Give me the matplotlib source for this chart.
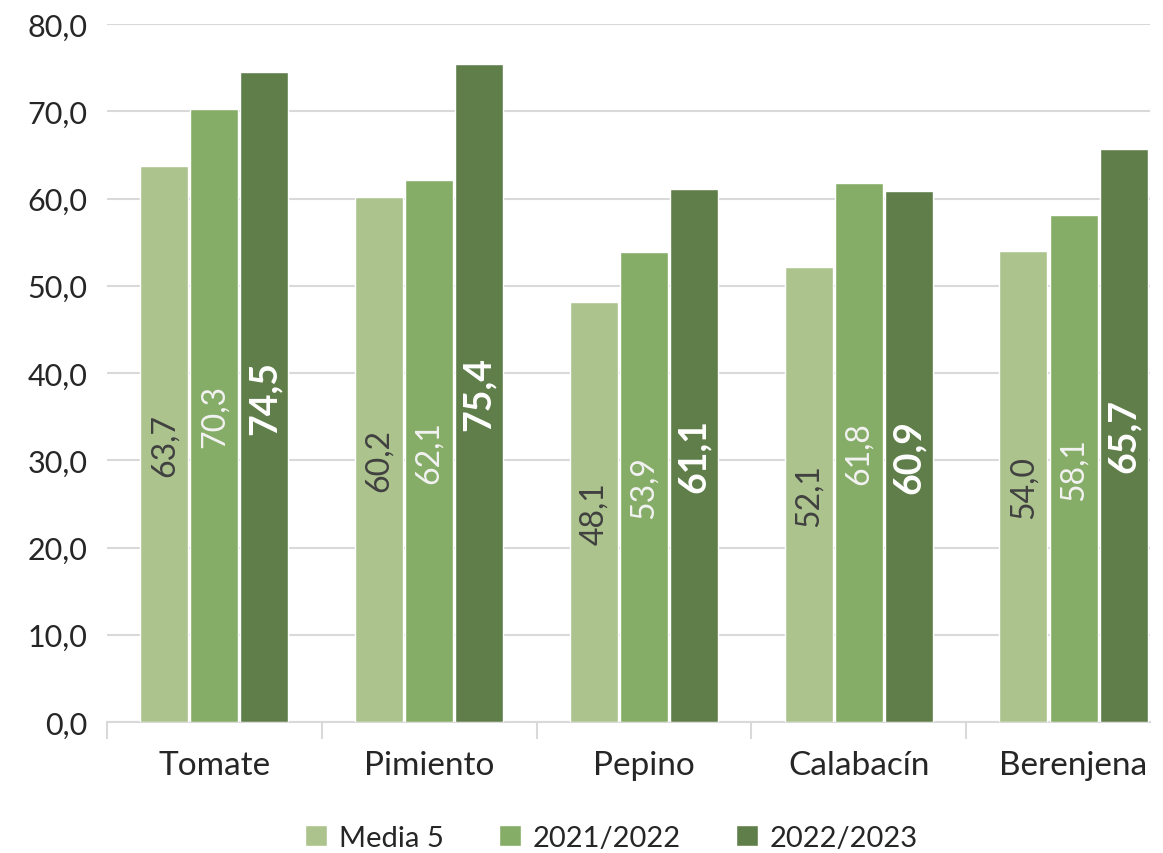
import matplotlib
matplotlib.use("Agg")
import matplotlib.pyplot as plt
import numpy as np

categorias = ["Tomate", "Pimiento", "Pepino", "Calabacín", "Berenjena"]
series = ["Media 5", "2021/2022", "2022/2023"]
media5 = [63.7, 60.2, 48.1, 52.1, 54.0]
v2122 = [70.3, 62.1, 53.9, 61.8, 58.1]
v2223 = [74.5, 75.4, 61.1, 60.9, 65.7]
yticks = np.arange(0, 81, 10)

colores = ["#ACC38E", "#86AD67", "#5F7E4A"]
col_texto = ["#404040", "#F2F2F2", "#FFFFFF"]
pesos = ["normal", "normal", "bold"]
tam = [23, 23, 27]

plt.rcParams["font.family"] = ["Lato", "DejaVu Sans"]

fig = plt.figure(figsize=(11.63, 8.54), dpi=100)
ax = fig.add_axes([0.092, 0.1534, 0.897, 0.8173])

x = np.arange(len(categorias))
w = 0.2235
paso = 0.233
valores = [media5, v2122, v2223]
for i, vals in enumerate(valores):
    pos = x + (i - 1) * paso
    barras = ax.bar(pos, vals, w, color=colores[i], edgecolor="white",
                    linewidth=1, label=series[i], zorder=3)
    for b, v in zip(barras, vals):
        ax.text(b.get_x() + b.get_width() / 2, v / 2,
                f"{v:.1f}".replace(".", ","), rotation=90,
                ha="center", va="center", color=col_texto[i],
                fontsize=tam[i], fontweight=pesos[i], zorder=4)

ax.set_ylim(0, 80)
ax.set_xlim(-0.5, 4.357)
ax.set_yticks(yticks)
ax.set_yticklabels([f"{t:.1f}".replace(".", ",") for t in yticks],
                   fontsize=22, color="#262626")
ax.yaxis.grid(True, color="#D9D9D9", linewidth=1.5, zorder=0)
ax.tick_params(axis="y", length=0, pad=14)

ax.set_xticks(x)
ax.set_xticklabels(categorias, fontsize=24, color="#262626")
ax.tick_params(axis="x", which="major", length=0, pad=20)
ax.set_xticks(np.arange(-0.5, len(categorias) - 1), minor=True)
ax.tick_params(axis="x", which="minor", length=12, color="#D9D9D9", width=1.5)

for s in ["top", "right", "left"]:
    ax.spines[s].set_visible(False)
ax.spines["bottom"].set_color("#D9D9D9")
ax.spines["bottom"].set_linewidth(1.5)

leg = fig.legend(loc="lower center", bbox_to_anchor=(0.526, -0.028), ncol=3,
                 frameon=False, fontsize=21, handlelength=0.75,
                 handleheight=0.75, handletextpad=0.4, columnspacing=1.9)
for t in leg.get_texts():
    t.set_color("#262626")

fig.savefig("out.png", dpi=100)
